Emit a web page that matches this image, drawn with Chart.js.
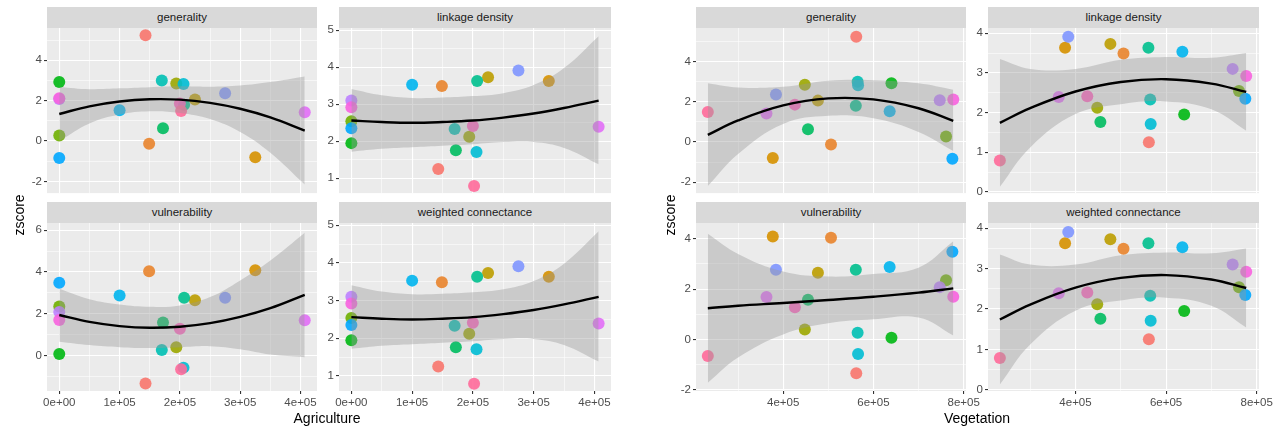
<!DOCTYPE html>
<html>
<head>
<meta charset="utf-8">
<script src="https://cdn.jsdelivr.net/npm/chart.js@4.4.1/dist/chart.umd.min.js"></script>
<style>
  body { margin: 0; background: #fff; width: 1281px; height: 431px; position: relative; overflow: hidden;
         font-family: "Liberation Sans", Arial, sans-serif; }
  .strip { position: absolute; background: #D9D9D9; color: #1A1A1A; font-size: 11.5px; text-align: center;
           height: 21px; line-height: 21px; }
  .panel { position: absolute; }
  .title { position: absolute; font-size: 14px; color: #000; text-align: center; white-space: nowrap; }
</style>
</head>
<body>
<script>
// --- Data (one entry per site, in colour order) ---
const agriculture = [143000, 149000, 325000, 225000, 194000, 0, 0, 172000, 207000, 170000,
                     206000, 100000, 0, 275000, 0, 407000, 0, 200000, 202000];
const vegetation  = [562000, 506000, 377000, 477000, 448000, 761000, 640000, 455000, 561000, 565000,
                     566000, 636000, 775000, 384000, 747000, 363000, 777000, 426000, 233000];
const generality          = [5.24, -0.13, -0.80, 2.06, 2.85, 0.27, 2.93, 0.63, 1.80, 3.00,
                             2.83, 1.53, -0.84, 2.37, 2.08, 1.42, 2.12, 1.86, 1.49];
const linkageDensity      = [1.25, 3.49, 3.63, 3.73, 2.12, 2.54, 1.95, 1.76, 3.63, 2.33,
                             1.71, 3.53, 2.35, 3.91, 3.10, 2.39, 2.92, 2.41, 0.79];
const vulnerability       = [-1.34, 4.04, 4.09, 2.65, 0.40, 2.35, 0.07, 1.58, 2.77, 0.27,
                             -0.58, 2.88, 3.49, 2.77, 2.08, 1.69, 1.70, 1.28, -0.66];
const weightedConnectance = [1.25, 3.49, 3.63, 3.73, 2.12, 2.54, 1.95, 1.76, 3.63, 2.33,
                             1.71, 3.53, 2.35, 3.91, 3.10, 2.39, 2.92, 2.41, 0.79];

// smoother (quadratic fit + band)
const agriFitX = [0, 50000, 100000, 150000, 200000, 250000, 300000, 350000, 407000];
const agriGenFit   = [1.34, 1.72, 1.96, 2.07, 2.05, 1.89, 1.60, 1.17, 0.52];
const agriGenUpper = [2.68, 2.57, 2.61, 2.67, 2.71, 2.69, 2.75, 2.92, 3.20];
const agriGenLower = [0.00, 0.87, 1.31, 1.47, 1.39, 1.09, 0.45, -0.58, -2.16];
const agriLinkFit   = [2.56, 2.52, 2.50, 2.52, 2.56, 2.64, 2.75, 2.90, 3.10];
const agriLinkUpper = [3.41, 3.24, 3.17, 3.18, 3.22, 3.30, 3.52, 3.98, 4.84];
const agriLinkLower = [1.72, 1.80, 1.84, 1.88, 1.92, 1.98, 1.98, 1.82, 1.38];
const agriVulnFit   = [1.94, 1.61, 1.41, 1.33, 1.38, 1.55, 1.85, 2.27, 2.91];
const agriVulnUpper = [3.20, 2.70, 2.45, 2.34, 2.40, 2.80, 3.60, 4.55, 5.88];
const agriVulnLower = [0.66, 0.50, 0.40, 0.36, 0.40, 0.45, 0.30, 0.05, -0.08];
const agriWcFit   = [2.56, 2.52, 2.50, 2.52, 2.56, 2.64, 2.75, 2.90, 3.10];
const agriWcUpper = [3.41, 3.24, 3.17, 3.18, 3.22, 3.30, 3.52, 3.98, 4.84];
const agriWcLower = [1.72, 1.80, 1.84, 1.88, 1.92, 1.98, 1.98, 1.82, 1.38];

const vegFitX = [233000, 300000, 400000, 500000, 600000, 700000, 777000];
const vegGenFit   = [0.35, 1.07, 1.82, 2.17, 2.12, 1.68, 1.05];
const vegGenUpper = [2.93, 2.72, 2.75, 3.05, 3.08, 2.92, 2.60];
const vegGenLower = [-2.20, -0.60, 0.90, 1.30, 1.18, 0.50, -0.45];
const vegLinkFit   = [1.74, 2.11, 2.53, 2.77, 2.84, 2.73, 2.52];
const vegLinkUpper = [3.35, 3.10, 3.10, 3.33, 3.40, 3.38, 3.50];
const vegLinkLower = [0.13, 1.12, 1.96, 2.21, 2.28, 2.08, 1.54];
const vegVulnFit   = [1.24, 1.34, 1.45, 1.57, 1.70, 1.86, 2.03];
const vegVulnUpper = [4.20, 3.40, 2.70, 2.50, 2.60, 2.85, 3.90];
const vegVulnLower = [-1.72, -0.72, 0.20, 0.64, 0.80, 0.87, 0.16];
const vegWcFit   = [1.74, 2.11, 2.53, 2.77, 2.84, 2.73, 2.52];
const vegWcUpper = [3.35, 3.10, 3.10, 3.33, 3.40, 3.38, 3.50];
const vegWcLower = [0.13, 1.12, 1.96, 2.21, 2.28, 2.08, 1.54];

// tick labels
const agriTicks = [0, 100000, 200000, 300000, 400000];
const vegTicks = [400000, 600000, 800000];

// --- ggplot-like hue palette ---
function hcl(h, c, l) {
  const hr = h * Math.PI / 180;
  const U = c * Math.cos(hr), V = c * Math.sin(hr);
  const Y = 100 * Math.pow((l + 16) / 116, 3);
  const Xn = 95.047, Yn = 100, Zn = 108.883;
  const d = Xn + 15 * Yn + 3 * Zn;
  const u = U / (13 * l) + 4 * Xn / d, v = V / (13 * l) + 9 * Yn / d;
  const X = 9 * Y * u / (4 * v), Z = -X / 3 - 5 * Y + 3 * Y / v;
  const x = X / 100, y = Y / 100, z = Z / 100;
  const lin = [3.240479 * x - 1.537150 * y - 0.498535 * z,
              -0.969256 * x + 1.875992 * y + 0.041556 * z,
               0.055648 * x - 0.204043 * y + 1.057311 * z];
  return lin.map(t => {
    t = t <= 0.0031308 ? 12.92 * t : 1.055 * Math.pow(t, 1 / 2.4) - 0.055;
    return Math.round(255 * Math.max(0, Math.min(1, t)));
  });
}
const n = generality.length;
const pointColors = generality.map((_, i) => {
  const [r, g, b] = hcl(15 + 360 * i / n, 100, 65);
  return `rgba(${r},${g},${b},0.9)`;
});

const Y_AXIS_W = 30, PAD_R = 18, PAD_T = 10;

const panels = [
  { strip: 'generality', L: 47, R: 317, T: 28, B: 194, x: agriculture, y: generality,
    fx: agriFitX, fy: agriGenFit, fu: agriGenUpper, fl: agriGenLower,
    xr: [-20350, 427350], yr: [-2.58, 5.6], xt: agriTicks, yt: [-2, 0, 2, 4], bottom: false },
  { strip: 'linkage density', L: 339, R: 611, T: 28, B: 194, x: agriculture, y: linkageDensity,
    fx: agriFitX, fy: agriLinkFit, fu: agriLinkUpper, fl: agriLinkLower,
    xr: [-20350, 427350], yr: [0.6, 5.06], xt: agriTicks, yt: [1, 2, 3, 4, 5], bottom: false },
  { strip: 'vulnerability', L: 47, R: 317, T: 223, B: 391, x: agriculture, y: vulnerability,
    fx: agriFitX, fy: agriVulnFit, fu: agriVulnUpper, fl: agriVulnLower,
    xr: [-20350, 427350], yr: [-1.7, 6.35], xt: agriTicks, yt: [0, 2, 4, 6], bottom: true },
  { strip: 'weighted connectance', L: 339, R: 611, T: 223, B: 391, x: agriculture, y: weightedConnectance,
    fx: agriFitX, fy: agriWcFit, fu: agriWcUpper, fl: agriWcLower,
    xr: [-20350, 427350], yr: [0.6, 5.06], xt: agriTicks, yt: [1, 2, 3, 4, 5], bottom: true },
  { strip: 'generality', L: 696, R: 966, T: 28, B: 194, x: vegetation, y: generality,
    fx: vegFitX, fy: vegGenFit, fu: vegGenUpper, fl: vegGenLower,
    xr: [206800, 805200], yr: [-2.55, 5.68], xt: vegTicks, yt: [-2, 0, 2, 4], bottom: false },
  { strip: 'linkage density', L: 988, R: 1259, T: 28, B: 194, x: vegetation, y: linkageDensity,
    fx: vegFitX, fy: vegLinkFit, fu: vegLinkUpper, fl: vegLinkLower,
    xr: [206800, 805200], yr: [-0.03, 4.13], xt: vegTicks, yt: [0, 1, 2, 3, 4], bottom: false },
  { strip: 'vulnerability', L: 696, R: 966, T: 223, B: 391, x: vegetation, y: vulnerability,
    fx: vegFitX, fy: vegVulnFit, fu: vegVulnUpper, fl: vegVulnLower,
    xr: [206800, 805200], yr: [-2.05, 4.63], xt: vegTicks, yt: [-2, 0, 2, 4], bottom: true },
  { strip: 'weighted connectance', L: 988, R: 1259, T: 223, B: 391, x: vegetation, y: weightedConnectance,
    fx: vegFitX, fy: vegWcFit, fu: vegWcUpper, fl: vegWcLower,
    xr: [206800, 805200], yr: [-0.03, 4.13], xt: vegTicks, yt: [0, 1, 2, 3, 4], bottom: true }
];

// major ticks plus the minor ones halfway between
function withMinor(major, range) {
  const step = major[1] - major[0];
  const out = [];
  for (let v = major[0] - step / 2; v <= major[major.length - 1] + step / 2 + 1e-9; v += step / 2) {
    if (v >= range[0] && v <= range[1]) out.push(+v.toFixed(6));
  }
  return out;
}

const panelBg = {
  id: 'panelBg',
  beforeDraw(chart) {
    const a = chart.chartArea, ctx = chart.ctx;
    ctx.save();
    ctx.fillStyle = '#EBEBEB';
    ctx.fillRect(a.left, a.top, a.right - a.left, a.bottom - a.top);
    ctx.restore();
  }
};

const tickFont = { family: '"Liberation Sans", Arial, sans-serif', size: 11.5 };

panels.forEach(p => {
  const strip = document.createElement('div');
  strip.className = 'strip';
  strip.style.left = p.L + 'px';
  strip.style.top = (p.T - 21) + 'px';
  strip.style.width = (p.R - p.L) + 'px';
  strip.textContent = p.strip;
  document.body.appendChild(strip);

  const xH = p.bottom ? 22 : 0;
  const padB = p.bottom ? 0 : 8;
  const w = p.R - p.L + Y_AXIS_W + PAD_R;
  const h = PAD_T + (p.B - p.T) + xH + padB;
  const canvas = document.createElement('canvas');
  canvas.className = 'panel';
  canvas.width = w; canvas.height = h;
  canvas.style.left = (p.L - Y_AXIS_W) + 'px';
  canvas.style.top = (p.T - PAD_T) + 'px';
  canvas.style.width = w + 'px'; canvas.style.height = h + 'px';
  document.body.appendChild(canvas);

  const xAll = withMinor(p.xt, p.xr);
  const yAll = withMinor(p.yt, p.yr);
  const isMajX = v => p.xt.includes(v);
  const isMajY = v => p.yt.includes(v);

  new Chart(canvas.getContext('2d'), {
    type: 'scatter',
    data: {
      datasets: [
        { type: 'line', data: p.fx.map((x, i) => ({ x, y: p.fy[i] })), borderColor: '#000',
          borderWidth: 2.4, pointRadius: 0, tension: 0.4, fill: false },
        { type: 'line', data: p.fx.map((x, i) => ({ x, y: p.fu[i] })), borderWidth: 0,
          borderColor: 'rgba(0,0,0,0)', pointRadius: 0, tension: 0.4, fill: '+1',
          backgroundColor: 'rgba(153,153,153,0.4)' },
        { type: 'line', data: p.fx.map((x, i) => ({ x, y: p.fl[i] })), borderWidth: 0,
          borderColor: 'rgba(0,0,0,0)', pointRadius: 0, tension: 0.4, fill: false },
        { data: p.x.map((x, i) => ({ x, y: p.y[i] })), backgroundColor: pointColors,
          pointRadius: 6, pointBorderWidth: 0, borderWidth: 0 }
      ]
    },
    options: {
      responsive: false,
      animation: false,
      events: [],
      layout: { padding: { top: PAD_T, right: PAD_R, bottom: padB, left: 0 } },
      plugins: { legend: { display: false }, tooltip: { enabled: false } },
      scales: {
        x: {
          type: 'linear', min: p.xr[0], max: p.xr[1],
          afterBuildTicks: s => { s.ticks = xAll.map(v => ({ value: v })); },
          afterFit: s => { s.height = xH; },
          border: { display: false },
          grid: {
            color: '#FFFFFF',
            lineWidth: c => (c.tick && isMajX(c.tick.value)) ? 1.1 : 0.55,
            drawTicks: p.bottom,
            tickLength: 3,
            tickWidth: 1.1,
            tickColor: c => (c.tick && isMajX(c.tick.value)) ? '#333333' : 'rgba(0,0,0,0)'
          },
          ticks: {
            display: p.bottom, autoSkip: false, maxRotation: 0, padding: 2,
            color: '#4D4D4D', font: tickFont,
            callback: v => !isMajX(v) ? '' : (v === 0 ? '0e+00' : (v / 100000) + 'e+05')
          }
        },
        y: {
          type: 'linear', min: p.yr[0], max: p.yr[1],
          afterBuildTicks: s => { s.ticks = yAll.map(v => ({ value: v })); },
          afterFit: s => { s.width = Y_AXIS_W; },
          border: { display: false },
          grid: {
            color: '#FFFFFF',
            lineWidth: c => (c.tick && isMajY(c.tick.value)) ? 1.1 : 0.55,
            drawTicks: true,
            tickLength: 3,
            tickWidth: 1.1,
            tickColor: c => (c.tick && isMajY(c.tick.value)) ? '#333333' : 'rgba(0,0,0,0)'
          },
          ticks: {
            autoSkip: false, padding: 2, color: '#4D4D4D', font: tickFont,
            callback: v => isMajY(v) ? String(v) : ''
          }
        }
      }
    },
    plugins: [panelBg]
  });
});

// axis titles
function addTitle(text, cx, cy, rotate) {
  const d = document.createElement('div');
  d.className = 'title';
  d.textContent = text;
  d.style.width = '100px';
  d.style.left = (cx - 50) + 'px';
  d.style.top = (cy - 8) + 'px';
  if (rotate) d.style.transform = 'rotate(-90deg)';
  document.body.appendChild(d);
}
addTitle('zscore', 19, 215, true);
addTitle('zscore', 670, 215, true);
addTitle('Agriculture', 327, 418, false);
addTitle('Vegetation', 977, 418, false);
</script>
</body>
</html>
